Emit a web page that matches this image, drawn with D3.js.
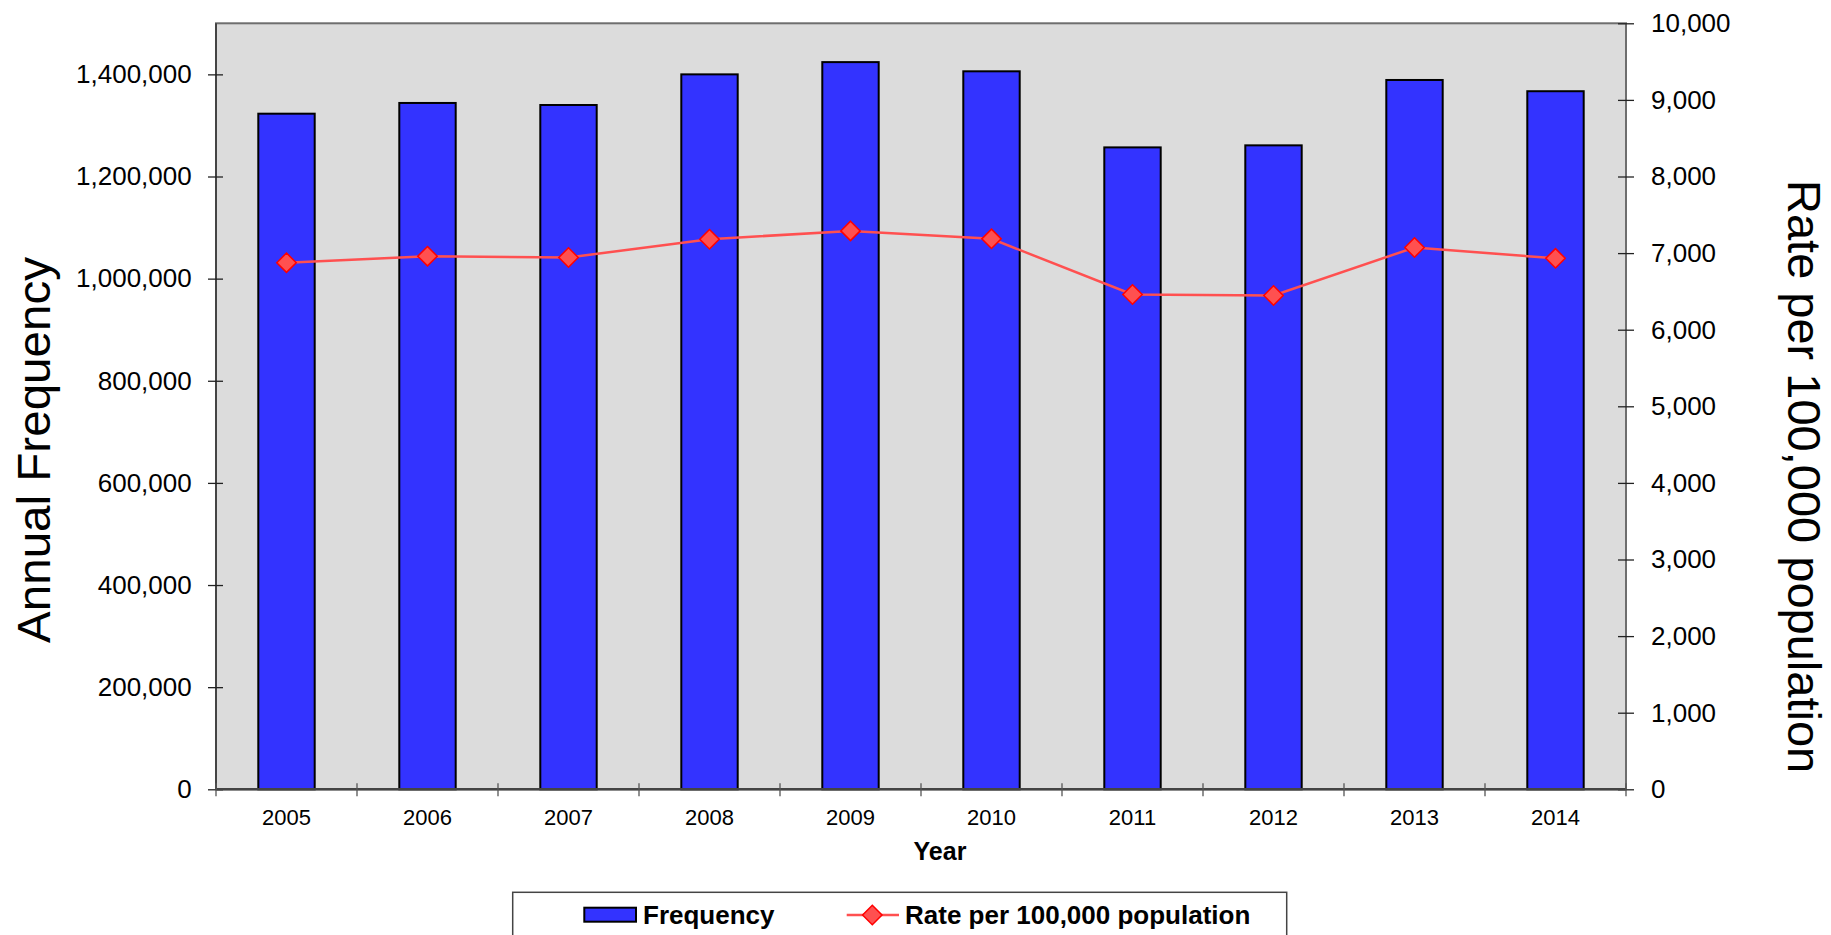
<!DOCTYPE html>
<html>
<head>
<meta charset="utf-8">
<script src="https://cdn.jsdelivr.net/npm/d3@7"></script>
<style>
body {margin:0; background:#fff;}
svg {font-family: Arial, "Liberation Sans", sans-serif;}
</style>
</head>
<body>
<svg id="chart" width="1831" height="935"></svg>
<script>

var years = ["2005","2006","2007","2008","2009","2010","2011","2012","2013","2014"]
var frequency = [1323000,1344000,1340000,1400000,1424000,1406000,1257000,1261000,1389000,1367000]
var rate = [6875,6960,6943,7181,7290,7186,6460,6447,7073,6932]
var leftTicks = [0,200000,400000,600000,800000,1000000,1200000,1400000]
var rightTicks = [0,1000,2000,3000,4000,5000,6000,7000,8000,9000,10000]

function drawChart() {

    var svg = d3.select("#chart")
    var left = 216, right = 1626, top = 23.3, bottom = 789.3

    var x = d3.scaleBand().domain(years).range([left,right]).paddingInner(0.6).paddingOuter(0.3)
    var yL = d3.scaleLinear().domain([0,1500000]).range([bottom,top])
    var yR = d3.scaleLinear().domain([0,10000]).range([bottom,top])

    svg.append("rect")
        .attr("x",left).attr("y",top)
        .attr("width",right-left).attr("height",bottom-top)
        .style("fill","#dcdcdc").style("stroke","#6e6e6e").style("stroke-width",2)

    // bars
    svg.selectAll("rect.bar").data(years).enter().append("rect")
        .attr("class","bar")
        .attr("x",function(d) {return x(d)})
        .attr("width",x.bandwidth())
        .attr("y",function(d,i) {return yL(frequency[i])})
        .attr("height",function(d,i) {return bottom-yL(frequency[i])})
        .style("fill","#3333ff").style("stroke","#000").style("stroke-width",2)

    // rate line
    var line = d3.line()
        .x(function(d,i) {return x(years[i])+x.bandwidth()/2})
        .y(function(d) {return yR(d)})

    svg.append("path").datum(rate).attr("d",line)
        .style("fill","none").style("stroke","#ff5050").style("stroke-width",2.5)

    var diamond = d3.symbol().type(d3.symbolDiamond2).size(240)
    svg.selectAll("path.marker").data(rate).enter().append("path")
        .attr("class","marker")
        .attr("d",diamond)
        .attr("transform",function(d,i) {return "translate(" + (x(years[i])+x.bandwidth()/2) + "," + yR(d) + ")"})
        .style("fill","#ff5050").style("stroke","#ff0000").style("stroke-width",1.5)

    // left axis
    var axL = svg.append("g").attr("transform","translate(" + left + ",0)")
        .call(d3.axisLeft(yL).tickValues(leftTicks).tickFormat(d3.format(",")).tickSize(8).tickPadding(16))
    axL.select(".domain").attr("d","M0," + top + "V" + bottom).style("stroke","#444").style("stroke-width",2)
    axL.selectAll(".tick line").attr("x1",7).attr("x2",-8).style("stroke","#222").style("stroke-width",1.3)
    axL.selectAll("text").style("font-size","26px").style("fill","#000").attr("x",-24.3)

    // right axis
    var axR = svg.append("g").attr("transform","translate(" + right + ",0)")
        .call(d3.axisRight(yR).tickValues(rightTicks).tickFormat(d3.format(",")).tickSize(8))
    axR.select(".domain").attr("d","M0," + top + "V" + bottom).style("stroke","#6e6e6e").style("stroke-width",2)
    axR.selectAll(".tick line").attr("x1",-8).attr("x2",8).style("stroke","#222").style("stroke-width",1.3)
    axR.selectAll("text").style("font-size","26px").style("fill","#000").attr("x",25)

    // x axis
    var axX = svg.append("g").attr("transform","translate(0," + bottom + ")")
        .call(d3.axisBottom(x).tickSize(0))
    axX.select(".domain").attr("d","M" + left + ",0H" + right).style("stroke","#444").style("stroke-width",2.5)
    axX.selectAll("text").style("font-size","22px").style("fill","#000").attr("y",36).attr("dy",0)

    var bounds = years.map(function(d) {return x(d)+x.bandwidth()/2-x.step()/2})
    bounds.push(right)
    axX.selectAll("line.bound").data(bounds).enter().append("line")
        .attr("class","bound")
        .attr("x1",function(d) {return d}).attr("x2",function(d) {return d})
        .attr("y1",-6).attr("y2",7)
        .style("stroke","#555").style("stroke-width",1.3)

    // titles
    svg.append("text").text("Year")
        .attr("x",940).attr("y",860).attr("text-anchor","middle")
        .style("font-size","25px").style("font-weight","bold")

    svg.append("text").text("Annual Frequency")
        .attr("transform","translate(50,450) rotate(-90)").attr("text-anchor","middle")
        .attr("textLength",386).attr("lengthAdjust","spacingAndGlyphs")
        .style("font-size","47px")

    svg.append("text").text("Rate per 100,000 population")
        .attr("transform","translate(1788,180) rotate(90)").attr("text-anchor","start")
        .style("font-size","47px")

    // legend
    var legend = svg.append("g")
    legend.append("rect")
        .attr("x",512.7).attr("y",892.3).attr("width",774).attr("height",60)
        .style("fill","#fff").style("stroke","#444").style("stroke-width",1.5)

    legend.append("rect")
        .attr("x",584.3).attr("y",907.7).attr("width",51.7).attr("height",14)
        .style("fill","#3333ff").style("stroke","#000").style("stroke-width",2)
    legend.append("text").text("Frequency")
        .attr("x",643).attr("y",924)
        .style("font-size","26px").style("font-weight","bold")

    legend.append("line")
        .attr("x1",846.7).attr("x2",899).attr("y1",915).attr("y2",915)
        .style("stroke","#ff5050").style("stroke-width",2.5)
    legend.append("path").attr("d",diamond)
        .attr("transform","translate(872.3,915)")
        .style("fill","#ff5050").style("stroke","#ff0000").style("stroke-width",1.5)
    legend.append("text").text("Rate per 100,000 population")
        .attr("x",905).attr("y",924)
        .style("font-size","26px").style("font-weight","bold")
}

drawChart()
</script>
</body>
</html>
